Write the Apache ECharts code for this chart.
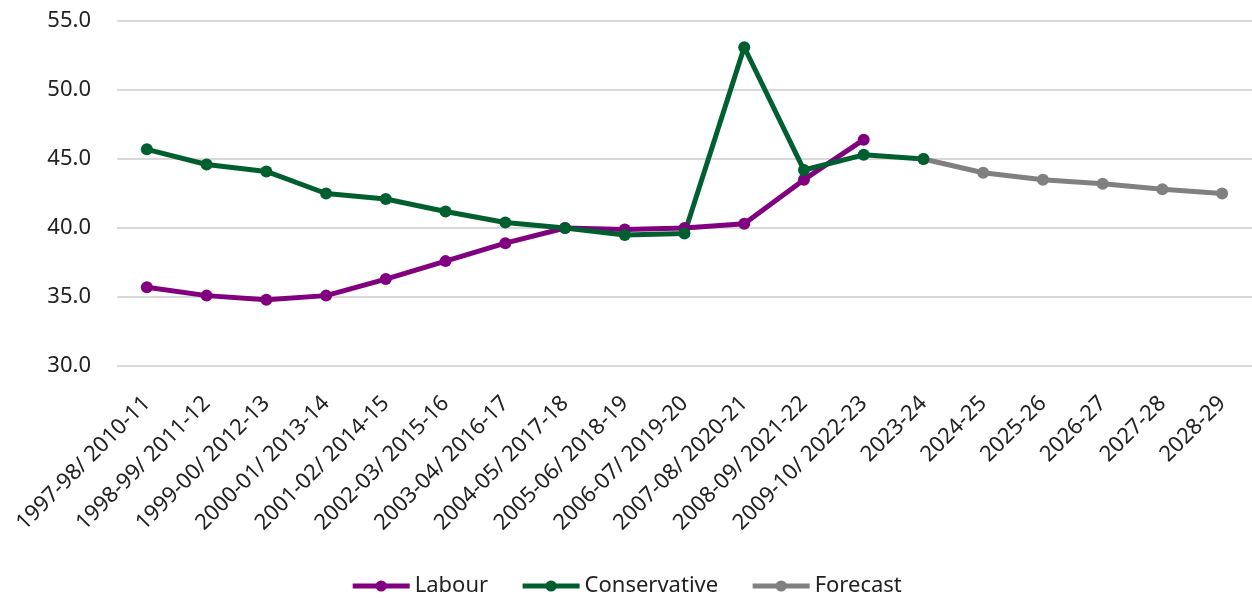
<!DOCTYPE html>
<html><head><meta charset="utf-8">
<script src="https://cdn.jsdelivr.net/npm/echarts@6/dist/echarts.min.js"></script>
<style>html,body{margin:0;padding:0;background:#fff}#c{width:1252px;height:598px}</style>
</head><body><div id="c"></div>
<script>
const categories = ["1997-98/ 2010-11","1998-99/ 2011-12","1999-00/ 2012-13","2000-01/ 2013-14","2001-02/ 2014-15","2002-03/ 2015-16","2003-04/ 2016-17","2004-05/ 2017-18","2005-06/ 2018-19","2006-07/ 2019-20","2007-08/ 2020-21","2008-09/ 2021-22","2009-10/ 2022-23","2023-24","2024-25","2025-26","2026-27","2027-28","2028-29"];
const labour = [35.7,35.1,34.8,35.1,36.3,37.6,38.9,40.0,39.9,40.0,40.3,43.5,46.4,null,null,null,null,null,null];
const conservative = [45.7,44.6,44.1,42.5,42.1,41.2,40.4,40.0,39.5,39.6,53.1,44.2,45.3,45.0,null,null,null,null,null];
const forecast = [null,null,null,null,null,null,null,null,null,null,null,null,null,45.0,44.0,43.5,43.2,42.8,42.5];
const yTicks = {min:30,max:55,interval:5};

const font = "Noto Sans";
const chart = echarts.init(document.getElementById('c'));
function s(name,data,color){return {name,type:'line',data,connectNulls:false,symbol:'circle',symbolSize:12,
  lineStyle:{width:5,color},itemStyle:{color},emphasis:{disabled:true},animation:false};}
chart.setOption({
  animation:false,
  textStyle:{fontFamily:font},
  grid:{left:117,right:0,top:21,bottom:232,containLabel:false},
  xAxis:{type:'category',data:categories,boundaryGap:true,
    axisLine:{show:false},axisTick:{show:false},
    axisLabel:{rotate:45,interval:0,margin:34,fontSize:22,color:'#222',fontFamily:font}},
  yAxis:{type:'value',min:yTicks.min,max:yTicks.max,interval:yTicks.interval,
    axisLine:{show:false},axisTick:{show:false},
    splitLine:{lineStyle:{color:'#d9d9d9',width:2}},
    axisLabel:{margin:26,fontSize:22,color:'#222',fontFamily:font,formatter:v=>v.toFixed(1)}},
  legend:{top:570,left:'center',itemWidth:57,itemHeight:14,itemGap:32,
    lineStyle:{width:5},
    textStyle:{fontSize:22,color:'#222',fontFamily:font},
    data:['Labour','Conservative','Forecast']},
  series:[s('Forecast',forecast,'#808080'),s('Labour',labour,'#800080'),s('Conservative',conservative,'#005f2f')]
});
</script></body></html>
